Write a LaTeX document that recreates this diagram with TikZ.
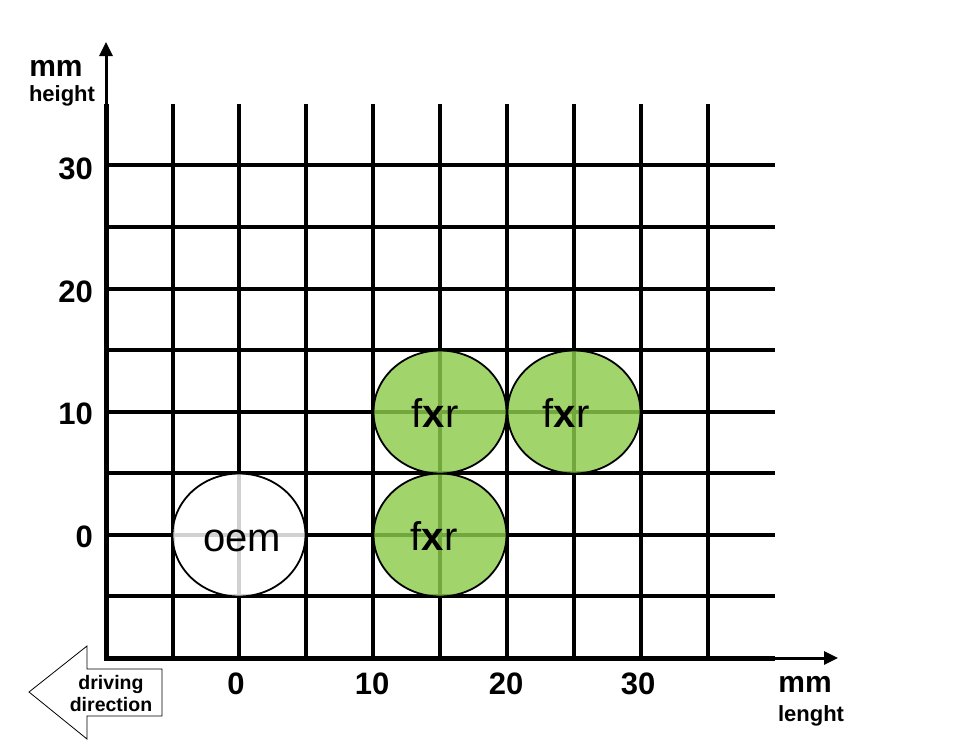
\documentclass[tikz,border=0pt]{standalone}
\usepackage{fontspec}
\setmainfont{Liberation Sans}
\usetikzlibrary{arrows.meta,shapes.geometric}
\definecolor{fxrgreen}{RGB}{140,204,76}
\begin{document}
\begin{tikzpicture}[x=1pt,y=-1pt,
  gridline/.style={line width=3.3pt,black},
  axisline/.style={line width=5pt,black},
  axistip/.style={line width=3pt,black,-{Triangle[length=14pt,width=13pt]}},
  tick/.style={font=\fontsize{31}{31}\selectfont\bfseries,inner sep=0pt},
  unitlbl/.style={font=\fontsize{30}{30}\selectfont\bfseries,inner sep=0pt},
  namelbl/.style={font=\fontsize{22}{22}\selectfont\bfseries,inner sep=0pt},
  spot/.style={ellipse,draw=black,line width=1.8pt,minimum width=133pt,minimum height=123pt,inner sep=0pt,fill opacity=0.82,draw opacity=1,text opacity=1},
  spottext/.style={font=\fontsize{40}{40}\selectfont}
]
\useasboundingbox (0,0) rectangle (976,755);
% grid
\foreach \x in {173,239,306,373,440,507,574,641,708}
  \draw[gridline] (\x,104) -- (\x,658);
\foreach \y in {165,227,289,350,412,473,535,596}
  \draw[gridline] (106,\y) -- (775,\y);
% axes
\coordinate (o) at (106,658);
\coordinate (xe) at (775,658);
\coordinate (xt) at (838,658);
\coordinate (ye) at (106,104);
\coordinate (yt) at (106,42);
\draw[axistip] (xe) -- (xt);
\draw[axistip] (ye) -- (yt);
\draw[axisline] (xe) -- (o) -- (ye);
% circles
\node[spot,fill=white] (oem) at (239,535) {};
\node[spottext] (oemt) at (242,541) {oem};
\node[spot,fill=fxrgreen] (f1) at (440,535) {};
\node[spot,fill=fxrgreen] (f2) at (440,412) {};
\node[spot,fill=fxrgreen] (f3) at (574,412) {};
\node[spottext] (f1t) at (434,536) {f\textbf{x}r};
\node[spottext] (f2t) at (435,413) {f\textbf{x}r};
\node[spottext] (f3t) at (566,413) {f\textbf{x}r};
% tick labels
\node[tick,anchor=east] (y30) at (93,169) {30};
\node[tick,anchor=east] (y20) at (93,292) {20};
\node[tick,anchor=east] (y10) at (93,414) {10};
\node[tick,anchor=east] (y0) at (93,537) {0};
\node[tick] (x0) at (236,684) {0};
\node[tick] (x10) at (372,684) {10};
\node[tick] (x20) at (506,684) {20};
\node[tick] (x30) at (638,684) {30};
% unit labels
\node[unitlbl] (ymm) at (56,68) {mm};
\node[namelbl] (yname) at (62,96) {height};
\node[unitlbl] (xmm) at (805,684) {mm};
\node[namelbl] (xname) at (811,716) {lenght};
% driving direction
\draw[line width=0.8pt,fill=white] (29,692) -- (87,646) -- (87,669) -- (162,669) -- (162,716) -- (87,716) -- (87,739) -- cycle;
\node[font=\fontsize{19.5}{22}\selectfont\bfseries,align=center,inner sep=0pt] (drive) at (111,694) {driving\\direction};
\end{tikzpicture}
\end{document}
